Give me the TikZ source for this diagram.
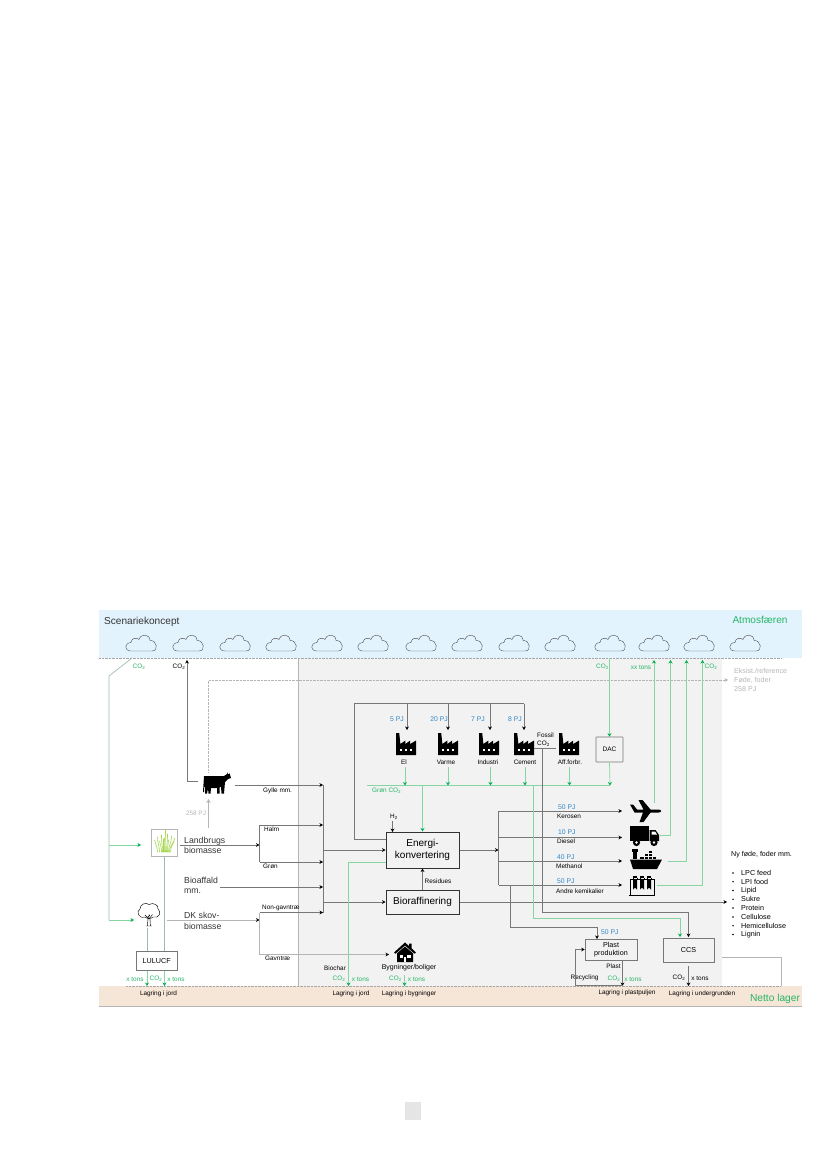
\documentclass[tikz,border=0pt]{standalone}
\usepackage{xcolor}
\usepackage{fontspec}
\setmainfont{Liberation Sans}
\usepackage{tikz}
\usetikzlibrary{positioning,arrows.meta}

\definecolor{skyblue}{HTML}{E3F3FD}
\definecolor{soilbrown}{HTML}{F6E6D8}
\definecolor{areagray}{HTML}{F2F2F2}
\definecolor{greenline}{HTML}{86D6A4}
\definecolor{greentip}{HTML}{00B050}
\definecolor{greentext}{HTML}{25B565}
\definecolor{pjblue}{HTML}{2E86C8}
\definecolor{linegray}{HTML}{777777}
\definecolor{palegray}{HTML}{B5B5B5}
\definecolor{sagegray}{HTML}{9FBFAB}

\tikzset{
  lab/.style={inner sep=0pt,align=left,font=\fontsize{6.4}{7.6}\selectfont},
  labl/.style={lab,anchor=west},
  midlab/.style={labl,font=\fontsize{8.7}{10.4}\selectfont,text=black!80},
  greenlab/.style={lab,text=greentext},
  pjlab/.style={lab,text=pjblue,font=\fontsize{6.8}{8}\selectfont},
  grayarrow/.style={draw=linegray,line width=0.6pt,-{Stealth[length=3.5pt,width=3.8pt,color=black]}},
  grayline/.style={draw=linegray,line width=0.6pt},
  paleline/.style={draw=palegray,line width=0.6pt},
  greenarrow/.style={draw=greenline,line width=0.7pt,-{Stealth[length=3.5pt,width=4pt,color=greentip]}},
  greenlink/.style={draw=greenline,line width=0.7pt},
  sageline/.style={draw=sagegray,line width=0.7pt},
  mainbox/.style={draw=black!80,line width=1pt,inner sep=0pt,align=center,font=\fontsize{10}{11.6}\selectfont},
  thinbox/.style={draw=linegray,line width=0.6pt,inner sep=0pt,align=center,font=\fontsize{7.2}{8.6}\selectfont},
  iconspot/.style={inner sep=0pt,minimum size=1pt},
  pics/cloudicon/.style={code={
    \draw[black!70,line width=0.4pt]
      (-10,8) .. controls (-17,8) and (-17,0) .. (-10,-0.5)
      .. controls (-10,-5) and (-4,-6) .. (-2,-3.5)
      .. controls (0,-10) and (9,-9) .. (9,-2.5)
      .. controls (16,-3) and (18,8) .. (11,8) -- cycle;}},
  pics/factoryicon/.style={code={
    \fill[black] (-10,11) -- (-10,-11) -- (-6.8,-11) -- (-5.6,0) -- (-0.6,-3.5) -- (-0.6,0)
      -- (4.2,-3.5) -- (4.2,0) -- (10,-3.5) -- (10,11) -- cycle;
    \foreach \wx in {-6.4,-1.4,3.6}
      \fill[white] (\wx,4.5) rectangle ++(2.8,2.8);}},
  pics/cowicon/.style={code={
    \fill[black] (-12,-8) -- (8,-8) -- (11,-10) -- (11,-12) -- (12,-10) -- (13,-10) -- (13,-11.5) -- (14,-9.5)
      -- (15,-6) -- (12,-5) -- (9,-2) -- (8,9.5) -- (5.5,9.5) -- (5,3) -- (3.5,3) -- (3.5,9.5) -- (1,9.5)
      -- (1,4) -- (-5,4) -- (-5.5,9.5) -- (-7.5,9.5) -- (-8,4.5) -- (-9,9.5) -- (-11,9.5) -- (-11,3)
      -- (-12,3) -- (-12,8) -- (-13,8) -- cycle;}},
  pics/planeicon/.style={code={
    \fill[black] (-15.5,-7) -- (-12.5,-7) -- (-8.5,-2) -- (-2,-2) -- (-7,-11.5) -- (-3,-11.5) -- (5,-2) -- (13,-2)
      .. controls (17,-1.5) and (16,1) .. (13,1) -- (5,1) -- (-2,10.5) -- (-6,10.5) -- (-2.5,1)
      -- (-11,1) -- cycle;}},
  pics/truckicon/.style={code={
    \fill[black] (-14.5,-10) rectangle (4,5);
    \fill[black] (5,-6) -- (11,-6) -- (14.5,-1) -- (14.5,5) -- (5,5) -- cycle;
    \fill[white] (7,-4.5) -- (10.5,-4.5) -- (12.5,-1.5) -- (7,-1.5) -- cycle;
    \foreach \wx in {-8,9.5} {
      \fill[black] (\wx,6.5) circle (3.6pt);
      \fill[white] (\wx,6.5) circle (1.4pt);}}},
  pics/shipicon/.style={code={
    \fill[black] (-16,0.5) -- (16,0.5) -- (11,10) -- (-13,10) -- cycle;
    \fill[black] (-13,-9.5) rectangle (-9.5,0);
    \fill[black] (-14.5,-10) rectangle (-8,-7);
    \fill[black] (-6,-2) rectangle (-2,0);
    \foreach \wx/\wy in {-1/-2,3/-2,7/-2,-1/-5,3/-5,3/-8}
      \fill[black] (\wx,\wy) rectangle ++(3.2,2.2);}},
  pics/tubesicon/.style={code={
    \draw[black,line width=0.8pt] (-11.5,-6.5) -- (11.5,-6.5);
    \draw[black,line width=0.8pt] (-12,-7) -- (-12,9.5) (12,-7) -- (12,9.5);
    \fill[black] (-13,8.5) rectangle (13,10);
    \foreach \wx in {-7,0,7} {
      \fill[black] (\wx-2.2,-10) rectangle (\wx+2.2,-8.5);
      \fill[black] (\wx-2,-6) -- (\wx+2,-6) -- (\wx+2,4) arc (0:-180:2) -- cycle;
      \draw[black,line width=0.5pt] (\wx-2,-8.5) -- (\wx-2,-6) (\wx+2,-8.5) -- (\wx+2,-6);}}},
  pics/houseicon/.style={code={
    \fill[black] (-11,0) -- (0,-10) -- (4,-6.5) -- (4,-9) -- (6.5,-9) -- (6.5,-4.2) -- (11,0) -- (9.5,1.2) -- (0,-7) -- (-9.5,1.2) -- cycle;
    \fill[black] (-8,0.8) -- (0,-6) -- (8,0.8) -- (8,9.5) -- (-8,9.5) -- cycle;
    \fill[white] (-5.5,2) rectangle (-2,5);
    \fill[white] (2,2) rectangle (5.5,5);
    \fill[white] (-1.2,4) rectangle (1.2,9.5);}},
  pics/treeicon/.style={code={
    \draw[black,line width=0.45pt]
      (-4,3) .. controls (-11,5) and (-13,-3) .. (-9,-5)
      .. controls (-9,-10) and (-3,-12) .. (0,-9.5)
      .. controls (4,-12) and (10,-9) .. (9,-5)
      .. controls (13,-2) and (10,5) .. (4,3)
      .. controls (2,5) and (-2,5) .. (-4,3);
    \draw[black,line width=0.45pt] (-1.6,12) -- (-1,5) (1.4,12) -- (1,5) (-3,12) -- (3,12)
      (0,5) -- (-4,1) (0,5) -- (3.5,0.5) (0,4) -- (0,0) (-1,3) -- (1,1);}},
  pics/grassicon/.style={code={
    \foreach \bx/\tx/\ty in {-7/-10/-3,-5/-7/-6,-3/-5/-2,-2/-3/-8,-1/-1/-4,0/1/-13,1/0/-5,2/3/-9,3/4/-3,4/7/-7,5/9/-2,6/10/-5}
      \draw[green!55!black!50!yellow!70,line width=0.6pt,line cap=round] (\bx,9) .. controls (\bx,2) and (\tx,1) .. (\tx,\ty);}}
}

\begin{document}
\begin{tikzpicture}[x=1pt,y=-1pt,>=Stealth]
  \useasboundingbox (0,0) rectangle (827,1169);

  % Background bands
  \fill[skyblue] (99,610) rectangle (802,658);
  \fill[areagray] (298.5,658) rectangle (722,986);
  \fill[soilbrown] (99,986) rectangle (802,1006);
  \draw[palegray,line width=0.6pt] (99,1006) -- (802,1006);
  \draw[palegray,line width=0.6pt] (298.5,658) -- (298.5,986);
  \draw[black!35,line width=0.4pt,densely dotted] (99,658) -- (781,658);
  \draw[black!35,line width=0.4pt,densely dotted] (126,986) -- (781,986);
  \node (pagebox) at (413,1111) [fill=black!10,minimum width=16pt,minimum height=18pt,inner sep=0pt] {};

  \node (scenario) at (104,622) [labl,font=\fontsize{10.1}{12}\selectfont,text=black!80] {Scenariekoncept};
  \node (atmos) at (760,620) [lab,font=\fontsize{10.1}{12}\selectfont,text=greentext] {Atmosfæren};
  \node (netto) at (775,999) [lab,font=\fontsize{10.2}{12}\selectfont,text=greentext] {Netto lager};

  % Clouds
  \foreach \cx [count=\ci] in {141,188,235,281,327,373,421,467,514,560,610,654,699,745} {
    \pic at (\cx,643) {cloudicon};
  }

  % Icons
  \node (cow) at (216,784) [iconspot] {};
  \pic at (cow) {cowicon};
  \node (grass) at (164.5,843) [draw=palegray,line width=0.6pt,fill=white,minimum width=26.5pt,minimum height=27.5pt,inner sep=0pt] {};
  \pic at (grass) {grassicon};
  \node (tree) at (149,914) [iconspot] {};
  \pic at (tree) {treeicon};
  \node (house) at (405,952.5) [iconspot] {};
  \pic at (house) {houseicon};
  \node (elfac) at (406,744) [iconspot] {};
  \node (varmefac) at (448,744) [iconspot] {};
  \node (indfac) at (489,744) [iconspot] {};
  \node (cemfac) at (524,744) [iconspot] {};
  \node (afffac) at (569,744) [iconspot] {};
  \foreach \fac in {elfac,varmefac,indfac,cemfac,afffac} {
    \pic at (\fac) {factoryicon};
  }
  \node (plane) at (645.5,811.5) [iconspot] {};
  \pic at (plane) {planeicon};
  \node (truck) at (644.5,836) [iconspot] {};
  \pic at (truck) {truckicon};
  \node (ship) at (646,859) [iconspot] {};
  \pic at (ship) {shipicon};
  \node (tubes) at (642,886) [iconspot] {};
  \pic at (tubes) {tubesicon};

  % Boxes
  \node (energi) at (422.5,850) [mainbox,minimum width=73pt,minimum height=36pt] {Energi-\\konvertering};
  \node (biorafi) [mainbox,minimum width=73pt,minimum height=24pt,below=21pt of energi] {Bioraffinering};
  \node (dac) at (609.5,749.5) [thinbox,rounded corners=0.5pt,minimum width=27pt,minimum height=25pt,font=\fontsize{6.5}{8}\selectfont] {DAC};
  \node (lulucf) at (156.7,960.7) [thinbox,minimum width=41.5pt,minimum height=19.5pt] {LULUCF};
  \node (plast) at (611,949.5) [thinbox,minimum width=52pt,minimum height=21pt] {Plast\\produktion};
  \node (ccs) at (688.5,950) [thinbox,minimum width=51pt,minimum height=24pt] {CCS};

  % Labels, left
  \node (lblco2a) at (139,667) [greenlab] {CO\textsubscript{2}};
  \node (lblco2b) at (179,667) [lab] {CO\textsubscript{2}};
  \node (lblpja) at (196,813.5) [lab,text=palegray] {258 PJ};
  \node (landbrug) at (184,845.5) [midlab] {Landbrugs\\biomasse};
  \node (bioaffald) at (184,885.5) [midlab] {Bioaffald\\mm.};
  \node (skov) at (184,921) [midlab] {DK skov-\\biomasse};
  \node (gylle) at (263,790.5) [labl] {Gylle mm.};
  \node (halm) at (264,829) [labl] {Halm};
  \node (groen) at (263,866) [labl] {Grøn};
  \node (nongavn) at (262,908) [labl] {Non-gavntræ};
  \node (gavn) at (265,958.5) [labl] {Gavntræ};
  \node (biochar) at (324,968) [labl] {Biochar};
  \node (byg) at (409,968) [lab,font=\fontsize{7}{8}\selectfont] {Bygninger/boliger};

  % Labels, factories
  \node (lblpjb) at (397,719) [pjlab] {5 PJ};
  \node (lblpjc) at (439,719) [pjlab] {20 PJ};
  \node (lblpjd) at (478,719) [pjlab] {7 PJ};
  \node (lblpje) at (515,719) [pjlab] {8 PJ};
  \node (elname) at (404,762) [lab] {El};
  \node (varmename) at (446,762.5) [lab] {Varme};
  \node (indname) at (488,762) [lab] {Industri};
  \node (cemname) at (525,762.5) [lab] {Cement};
  \node (affname) at (570,762) [lab] {Aff.forbr.};
  \node (fossil) at (537,739.5) [labl] {Fossil\\CO\textsubscript{2}};
  \node (groenco) at (372,791) [greenlab,anchor=west] {Grøn CO\textsubscript{2}};
  \node (hydro) at (394,817) [lab] {H\textsubscript{2}};
  \node (residues) at (424.5,881) [labl] {Residues};

  % Labels, products
  \node (pjkero) at (558,807) [pjlab,anchor=west] {50 PJ};
  \node (kerosen) at (557,816) [labl] {Kerosen};
  \node (pjdiesel) at (558,832.5) [pjlab,anchor=west] {10 PJ};
  \node (diesel) at (557,841) [labl] {Diesel};
  \node (pjmeth) at (557,857.5) [pjlab,anchor=west] {40 PJ};
  \node (methanol) at (556,866) [labl] {Methanol};
  \node (pjkemi) at (557,881.5) [pjlab,anchor=west] {50 PJ};
  \node (kemi) at (556,891) [labl] {Andre kemikalier};
  \node (pjplast) at (601,932) [pjlab,anchor=west] {50 PJ};
  \node (nyfoede) at (731,855) [labl,font=\fontsize{7.1}{8}\selectfont] {Ny føde, foder mm.};
  \foreach \item/\iy [count=\ii] in {LPC feed/873,LPI food/881.7,Lipid/890.5,Sukre/899.3,Protein/908,Cellulose/917,Hemicellulose/925.7,Lignin/934.5} {
    \node (feed\ii) at (741,\iy) [labl,font=\fontsize{7.2}{8}\selectfont] {\item};
    \fill[black] (733,\iy) circle (0.8pt);
  }
  \node (eksist) at (734,680) [labl,text=palegray,font=\fontsize{7.1}{9}\selectfont] {Eksist./reference\\Føde, foder\\258 PJ};

  % Labels, top and bottom
  \node (lblco2c) at (602.5,667) [greenlab] {CO\textsubscript{2}};
  \node (xxtons) at (641,667) [greenlab] {xx tons};
  \node (lblco2d) at (711,667) [greenlab] {CO\textsubscript{2}};
  \node (tonsa) at (135,979) [greenlab] {x tons};
  \node (coa) at (156,979) [greenlab] {CO\textsubscript{2}};
  \node (tonsb) at (176,979) [greenlab] {x tons};
  \node (cob) at (339,979) [greenlab] {CO\textsubscript{2}};
  \node (tonsc) at (360.5,979) [greenlab] {x tons};
  \node (coc) at (395.5,979) [greenlab] {CO\textsubscript{2}};
  \node (tonsd) at (416.5,979) [greenlab] {x tons};
  \node (recycling) at (584.5,978) [lab] {Recycling};
  \node (plastlab) at (613.5,966) [lab] {Plast};
  \node (cod) at (614,979) [greenlab] {CO\textsubscript{2}};
  \node (tonse) at (633,979) [greenlab] {x tons};
  \node (coe) at (679,978) [lab] {CO\textsubscript{2}};
  \node (tonsf) at (700,978) [lab] {x tons};
  \node (jorda) at (158.5,994) [lab] {Lagring i jord};
  \node (jordb) at (351,994) [lab] {Lagring i jord};
  \node (bygn) at (409,994) [lab] {Lagring i bygninger};
  \node (plastpul) at (627,993) [lab] {Lagring i plastpuljen};
  \node (under) at (702,994) [lab] {Lagring i undergrunden};

  % Free ends and junctions
  \coordinate (collector) at (323,785);
  \coordinate (forklb) at (259.5,845);
  \coordinate (forksk) at (259.5,912.5);
  \coordinate (outfork) at (498.5,850);
  \coordinate (greenrail) at (367,785.5);
  \coordinate (railend) at (610,785.5);
  \coordinate (looptop) at (354.5,703.5);

  % CO2 uptake on the left
  \draw[sageline] (132,658) -- (109,676) -- (109,920);
  \draw[greenarrow] (109,845) -- (141,845);
  \draw[greenarrow] (109,920) -- (134,920);

  % Cow
  \draw[grayarrow] (198,781) -- (187,781) -- (187,660);
  \draw[paleline,line width=0.4pt,densely dotted,-{Stealth[length=3.5pt,width=3.8pt,color=palegray]}] (208.5,772) -- (208.5,680) -- (728,680);
  \draw[paleline,-{Stealth[length=4pt,width=4.5pt,color=palegray]}] (208.5,828) -- (208.5,799);
  \draw[grayarrow] (235,785) -- (collector);

  % Feedstock lines
  \draw[grayarrow] (180,845) -- (forklb);
  \draw[grayline] (259.5,825) -- (259.5,862);
  \draw[grayarrow] (259.5,825) -- (323,825);
  \draw[grayarrow] (259.5,862) -- (323,862);
  \draw[grayarrow] (220,887) -- (323,887);
  \draw[paleline,-{Stealth[length=3.5pt,width=3.8pt,color=black]}] (167,920) -- (259.5,920);
  \draw[paleline] (259.5,912.5) -- (259.5,954.5);
  \draw[grayarrow] (forksk) -- (323,912.5);
  \draw[paleline,-{Stealth[length=3.5pt,width=3.8pt,color=black]}] (259.5,954.5) -- (389,954.5);
  \draw[grayline] (collector) -- (323,912.5);
  \draw[grayarrow] (323,850) -- (energi.west);
  \draw[grayarrow] (323,902) -- (biorafi.west);

  % Grass and tree down to soil
  \draw[sageline] (grass.south) -- (grass.south |- lulucf.north);
  \draw[sageline] (147,928) -- (147,951);
  \draw[greenarrow] (147,970.5) -- (147,986);
  \draw[greenarrow] (164.5,970.5) -- (164.5,986);

  % Energy conversion
  \draw[grayarrow] (biorafi.north) -- (energi.south);
  \draw[grayarrow] (392.5,821) -- (392.5,832);
  \draw[grayline] (386,839) -- (354.5,839) -- (looptop) -- (524,703.5);
  \draw[grayarrow] (407,703.5) -- (407,730);
  \draw[grayarrow] (448,703.5) -- (448,730);
  \draw[grayarrow] (490,703.5) -- (490,730);
  \draw[grayarrow] (524,703.5) -- (524,730);
  \draw[greenarrow] (386,862) -- (348.5,862) -- (348.5,986);
  \draw[grayarrow] (energi.east) -- (outfork);
  \draw[grayarrow] (biorafi.east) -- (727,902);

  % Products
  \draw[grayline] (498.5,811) -- (498.5,885);
  \draw[grayarrow] (498.5,811) -- (622,811);
  \draw[grayarrow] (498.5,837.5) -- (622,837.5);
  \draw[grayarrow] (498.5,861) -- (622,861);
  \draw[grayarrow] (498.5,885) -- (622,885);
  \draw[grayarrow] (510.5,885) -- (510.5,927) -- (597,927) -- (597,939);

  % Green CO2 rail
  \draw[greenlink] (greenrail) -- (railend);
  \draw[greenarrow] (422.5,785.5) -- (energi.north);
  \draw[greenarrow] (405,767) -- (405,785.5);
  \draw[greenarrow] (448,767) -- (448,785.5);
  \draw[greenarrow] (490.5,767) -- (490.5,785.5);
  \draw[greenarrow] (525,767) -- (525,785.5);
  \draw[greenarrow] (569.5,767) -- (569.5,785.5);
  \draw[greenarrow] (dac.south) -- (railend);
  \draw[greenarrow] (dac.north |- 0,658) -- (dac.north);
  \draw[greenarrow] (533,785.5) -- (533,918) -- (680,918) -- (680,937);

  % Fossil CO2 to CCS
  \draw[grayline] (534,748) -- (556,748);
  \draw[grayarrow] (542.5,748) -- (542.5,912) -- (688.5,912) -- (688.5,937);

  % Back to the atmosphere
  \draw[greenarrow] (654,803) -- (654,660);
  \draw[greenarrow] (660,835) -- (670.5,835) -- (670.5,660);
  \draw[greenarrow] (668,861) -- (686.5,861) -- (686.5,660);
  \draw[greenarrow] (657,885) -- (702.5,885) -- (702.5,660);

  % Plast, CCS and house
  \draw[grayarrow] (622.5,960) -- (622.5,986);
  \draw[grayarrow] (622.5,985) -- (575.5,985) -- (575.5,949.5) -- (plast.west |- 0,949.5);
  \draw[grayarrow] (688.5,966) -- (688.5,986);
  \draw[paleline] (722,957.5) -- (781,957.5) -- (781,986);
  \draw[greenarrow] (404.5,975) -- (404.5,986);
\end{tikzpicture}
\end{document}
